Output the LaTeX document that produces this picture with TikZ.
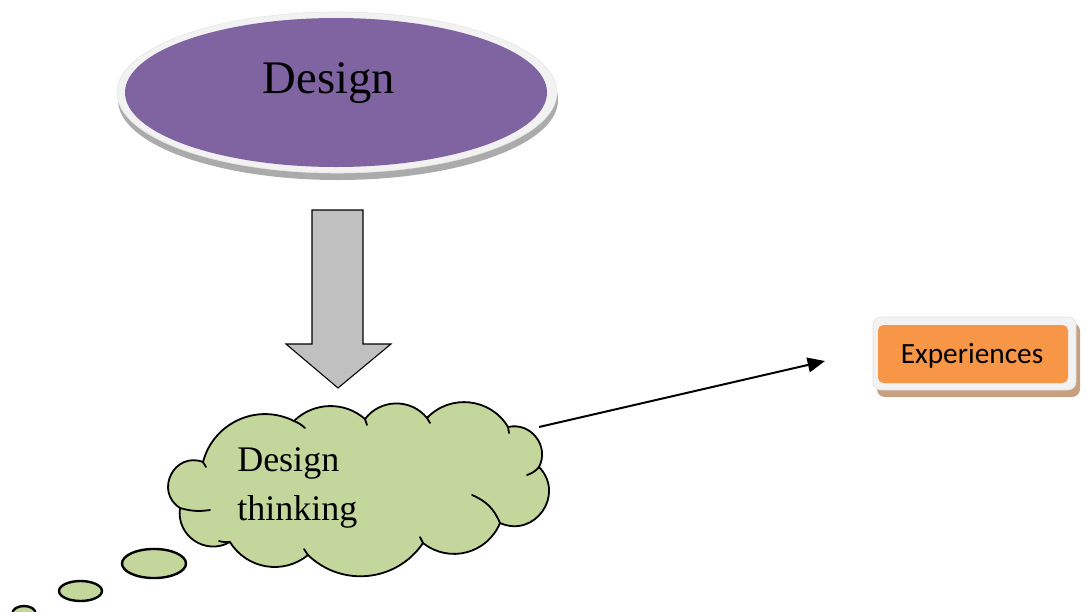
\documentclass[tikz,border=0pt]{standalone}
\usepackage{fontspec}
\setmainfont{Liberation Serif}
\newfontfamily\calibrifont{Carlito}
\usetikzlibrary{shapes.geometric,arrows.meta,calc}
\definecolor{dpurple}{HTML}{8064A2}
\definecolor{rimgray}{HTML}{F2F2F2}
\definecolor{shadowgray}{HTML}{ABABAB}
\definecolor{blockgray}{HTML}{C0C0C0}
\definecolor{cloudgreen}{HTML}{C3D69B}
\definecolor{exporange}{HTML}{F79646}
\definecolor{expshadow}{RGB}{200,160,128}
\begin{document}
\begin{tikzpicture}[x=0.75pt,y=-0.75pt,
  blockarrow/.style={fill=blockgray,draw=black,line width=0.8pt,line join=miter},
  cloudshape/.style={fill=cloudgreen,draw=black,line width=1.35pt},
  cloudtick/.style={draw=black,line width=1.35pt,line cap=round},
  bubble/.style={fill=cloudgreen,draw=black,line width=1.8pt},
  bigserif/.style={font=\fontsize{35}{42}\selectfont},
  cloudserif/.style={font=\fontsize{27}{36.75}\selectfont},
  connector/.style={line width=1.5pt,-{Triangle[length=13pt,width=11pt]}}]
\useasboundingbox (0,0) rectangle (1085,611);
\fill[white] (0,0) rectangle (1085,611);

% Design ellipse
\fill[shadowgray] (338,100) ellipse [x radius=165pt, y radius=60pt];
\filldraw[fill=rimgray, draw=gray!20, line width=0.4pt] (337,92.5) ellipse [x radius=165pt, y radius=60.4pt];
\node[ellipse, fill=dpurple, minimum width=316.5pt, minimum height=111.75pt, inner sep=0pt] (design) at (336,92.5) {};
\node[anchor=base, bigserif, inner sep=0pt] (designlabel) at (329,93) {Design};

% block arrow
\draw[blockarrow] (312,210) -- (363,210) -- (363,344) -- (391,344) -- (338,388) -- (286,344) -- (312,344) -- cycle;

% cloud
\coordinate (P1) at (203,462);
\coordinate (P2) at (294,421);
\coordinate (P3) at (365,419);
\coordinate (P4) at (427,418);
\coordinate (P5) at (508,427);
\coordinate (P6) at (539,467);
\coordinate (P7) at (500,523);
\coordinate (P8) at (423,543);
\coordinate (P9) at (308,555);
\coordinate (P10) at (230,542);
\coordinate (P11) at (180,508);
\path[cloudshape] (P1) to[bend left=51,looseness=1.05] (P2)
  to[bend left=43,looseness=0.98] (P3)
  to[bend left=52,looseness=1.05] (P4)
  to[bend left=53,looseness=1.06] (P5)
  to[bend left=65,looseness=1.19] (P6)
  to[bend left=79,looseness=1.43] (P7)
  to[bend left=53,looseness=1.07] (P8)
  to[bend left=50,looseness=1.04] (P9)
  to[bend left=49,looseness=1.03] (P10)
  to[bend left=64,looseness=1.19] (P11)
  to[bend left=84,looseness=1.53] (P1) -- cycle;
\draw[cloudtick] (P2) to[bend left=10] (305,428);
\draw[cloudtick] (P3) to[bend left=10] (367,425);
\draw[cloudtick] (P4) to[bend left=10] (430,423);
\draw[cloudtick] (P5) to[bend left=10] (509,433);
\draw[cloudtick] (P6) to[bend left=15] (527,475);
\draw[cloudtick] (472,495) to[bend left=22] (P7);
\draw[cloudtick] (P8) to[bend left=10] (420,537);
\draw[cloudtick] (P9) to[bend left=10] (304,549);
\draw[cloudtick] (P10) to[bend left=10] (219,541);
\draw[cloudtick] (P11) to[bend right=12] (210,510);
\draw[cloudtick] (P1) to[bend left=10] (206,467);
\node[anchor=base west, cloudserif, inner sep=0pt] (dtline1) at (237,471) {Design};
\node[anchor=base west, cloudserif, inner sep=0pt] (dtline2) at (237,520) {thinking};

% thought bubbles
\draw[bubble] (154,563.5) ellipse [x radius=24pt, y radius=10.9pt];
\draw[bubble] (80.5,591) ellipse [x radius=16.1pt, y radius=7.5pt];
\draw[bubble] (24,613) ellipse [x radius=8.6pt, y radius=5.25pt];

% Experiences box
\fill[expshadow, rounded corners=6pt] (877,323) rectangle (1080,397);
\filldraw[fill=rimgray, draw=gray!25, rounded corners=6pt] (873,317) rectangle (1076,390);
\node[fill=exporange, rounded corners=4pt, minimum width=142.5pt, minimum height=43.5pt, inner sep=0pt] (experiences) at (973,354) {};
\node[anchor=base, inner sep=0pt, font=\calibrifont\fontsize{22}{26}\selectfont] (explabel) at (972,363) {Experiences};

% connector
\coordinate (cloudout) at (539,427);
\coordinate (arrowtip) at (825,361);
\draw[connector] (cloudout) -- (arrowtip);
\end{tikzpicture}
\end{document}
